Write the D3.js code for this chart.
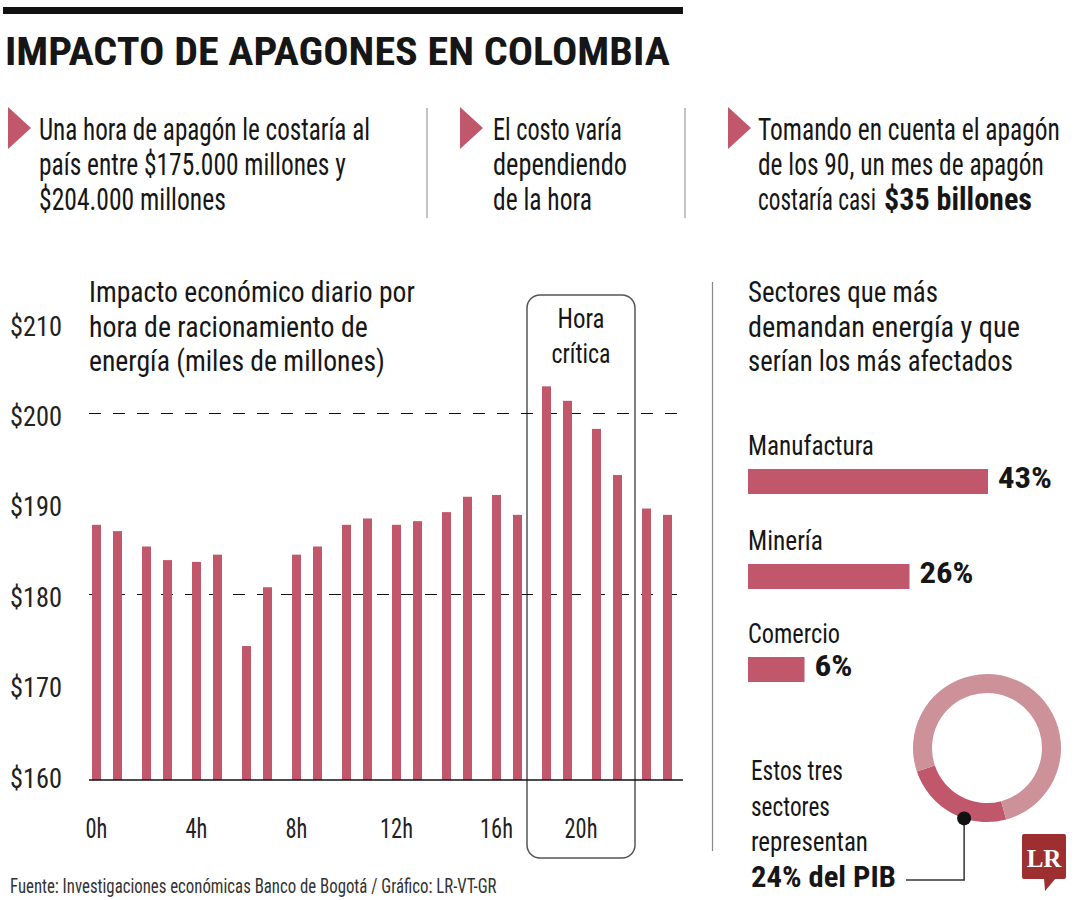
<!DOCTYPE html>
<html>
<head>
<meta charset="utf-8">
<script src="https://cdn.jsdelivr.net/npm/d3@7"></script>
<style>
  html, body { margin: 0; padding: 0; background: #fff; }
  svg { display: block; }
  text { font-family: 'Liberation Sans Narrow', 'Roboto Condensed', 'Liberation Sans', Arial, sans-serif; fill: #161616; }
</style>
</head>
<body>
<svg id="chart" width="1080" height="900"></svg>
<script>
// ---------------- DATA ----------------
const hours = ["0h","1h","2h","3h","4h","5h","6h","7h","8h","9h","10h","11h",
               "12h","13h","14h","15h","16h","17h","18h","19h","20h","21h","22h","23h"];
const impact = [187.7,187.0,185.3,183.8,183.6,184.4,174.3,180.8,184.4,185.3,187.7,188.4,
                187.7,188.1,189.1,190.8,191.0,188.8,203.0,201.4,198.3,193.2,189.5,188.8];
const yTicks = [160,170,180,190,200,210];
const xTickLabels = ["0h","4h","8h","12h","16h","20h"];
const refLines = [180,200];
const criticalHours = ["18h","19h","20h","21h"];
const criticalLabel = ["Hora","crítica"];
const sectors = ["Manufactura","Minería","Comercio"];
const sectorShares = [43,26,6];
const pibLabels = ["24%","resto"];
const pibShares = [24,76];

const title = "IMPACTO DE APAGONES EN COLOMBIA";
const chartTitle = ["Impacto económico diario por","hora de racionamiento de","energía (miles de millones)"];
const sectorTitle = ["Sectores que más","demandan energía y que","serían los más afectados"];
const note1 = ["Una hora de apagón le costaría al","país entre $175.000 millones y","$204.000 millones"];
const note2 = ["El costo varía","dependiendo","de la hora"];
const note3 = ["Tomando en cuenta el apagón","de los 90, un mes de apagón","costaría casi"];
const note3Bold = "$35 billones";
const pibNote = ["Estos tres","sectores","representan"];
const pibBold = "24% del PIB";
const source = "Fuente: Investigaciones económicas Banco de Bogotá / Gráfico: LR-VT-GR";

// ---------------- STYLE ----------------
const RED = "#c1576a";
const PINK = "#cd9199";
const LOGO = "#9e2f30";

const svg = d3.select("#chart");

// text helper: width-fitting done with a horizontal scale transform (condensed look)
function txt(x, y, s, o = {}) {
  const t = svg.append("text").attr("x", 0).attr("y", 0).text(s)
    .style("font-size", (o.size || 28) + "px")
    .style("font-weight", o.weight || "normal")
    .attr("text-anchor", o.anchor || "start");
  if (o.fill) t.style("fill", o.fill);
  if (o.family) t.style("font-family", o.family);
  let sx = 1;
  const w = t.node().getComputedTextLength();
  if (o.width) sx = o.width / w;
  else if (o.squeeze) sx = o.squeeze;
  t.attr("transform", `translate(${x},${y}) scale(${sx},1)`);
  return t;
}

// top rule + title
svg.append("rect").attr("x", 3).attr("y", 7).attr("width", 680).attr("height", 7).attr("fill", "#111");
txt(5, 65, title, {size: 38, weight: "bold", width: 665});

// notes
function marker(x) {
  svg.append("path").attr("d", `M${x},107 L${x+23},128 L${x},149 Z`).attr("fill", RED);
}
const noteW1 = [331, 307, 187], noteW2 = [129, 134, 99], noteW3 = [302, 286, 118];
marker(8); marker(460); marker(728);
note1.forEach((s, i) => txt(39, 140 + i * 35, s, {size: 31, width: noteW1[i]}));
note2.forEach((s, i) => txt(493, 140 + i * 35, s, {size: 31, width: noteW2[i]}));
note3.forEach((s, i) => txt(758, 140 + i * 35, s, {size: 31, width: noteW3[i]}));
txt(884, 210, note3Bold, {size: 31, weight: "bold", width: 148});
[427, 685].forEach(x => svg.append("line").attr("x1", x).attr("x2", x).attr("y1", 108).attr("y2", 218)
  .attr("stroke", "#888").attr("stroke-width", 1));

// ---------------- BAR CHART ----------------
const pairs = d3.range(12);
const xPair = d3.scaleBand().domain(pairs).range([82, 682]);
const xSub = d3.scalePoint().domain([0, 1]).range([14.5, 35.5]);
const barW = 9;
const xc = h => { const i = hours.indexOf(h); return xPair(Math.floor(i / 2)) + xSub(i % 2); };
const y = d3.scaleLinear().domain([159.5, 210]).range([780, 323]);

// chart title
const chartTitleW = [326, 279, 296];
chartTitle.forEach((s, i) => txt(89, 302 + i * 34.5, s, {size: 29, width: chartTitleW[i]}));

// critical box
const bx0 = xc(criticalHours[0]) - barW / 2 - 15;
const bx1 = xc(criticalHours[criticalHours.length - 1]) + barW / 2 + 13;
svg.append("rect").attr("x", bx0).attr("y", 295).attr("width", bx1 - bx0).attr("height", 563)
  .attr("rx", 13).attr("fill", "none").attr("stroke", "#555").attr("stroke-width", 1.5);
const bxc = (bx0 + bx1) / 2;
txt(bxc, 328, criticalLabel[0], {size: 27, anchor: "middle", width: 47});
txt(bxc, 363, criticalLabel[1], {size: 27, anchor: "middle", width: 59});

// y axis labels
const yAxis = d3.axisLeft(y).tickValues(yTicks).tickFormat(d => "$" + d).tickSize(0).tickPadding(0);
const ya = svg.append("g").attr("transform", "translate(10,0)").call(yAxis);
ya.select(".domain").remove();
ya.selectAll("text").attr("x", 0).attr("dy", null).attr("y", 12)
  .attr("text-anchor", "start").style("font-size", "28px").style("fill", "#222")
  .style("font-family", "'Liberation Sans Narrow', 'Roboto Condensed', 'Liberation Sans', Arial, sans-serif")
  .each(function() {
    const w = this.getComputedTextLength();
    d3.select(this).attr("transform", `scale(${52 / w},1)`);
  });

// reference dashed lines
svg.selectAll(".ref").data(refLines).join("line")
  .attr("x1", 89).attr("x2", 683).attr("y1", d => y(d)).attr("y2", d => y(d))
  .attr("stroke", "#111").attr("stroke-width", 1.2).attr("stroke-dasharray", "12,12");

// bars
svg.selectAll(".bar").data(hours).join("rect")
  .attr("x", h => xc(h) - barW / 2)
  .attr("y", (h, i) => y(impact[i]))
  .attr("width", barW)
  .attr("height", (h, i) => y(y.domain()[0]) - y(impact[i]))
  .attr("fill", RED);

// baseline
svg.append("line").attr("x1", 89).attr("x2", 683).attr("y1", 780).attr("y2", 780)
  .attr("stroke", "#111").attr("stroke-width", 1.5);

// x labels
xTickLabels.forEach(lbl => {
  const xx = criticalHours.includes(lbl) ? bxc : xc(lbl);
  txt(xx, 838, lbl, {size: 28, anchor: "middle", squeeze: 0.8, fill: "#222"});
});

// source
txt(10, 893, source, {size: 21, width: 487, fill: "#333"});

// ---------------- SECTORS ----------------
svg.append("line").attr("x1", 712.5).attr("x2", 712.5).attr("y1", 282).attr("y2", 851)
  .attr("stroke", "#888").attr("stroke-width", 1.2);
const sectorTitleW = [190, 272, 265];
sectorTitle.forEach((s, i) => txt(748, 302 + i * 34.5, s, {size: 29, width: sectorTitleW[i]}));

const xs = d3.scaleLinear().domain([0, 6, 26, 43]).range([0, 56.5, 161.5, 240]);
const rowY = [469, 564, 657];
const labelW = [126, 75, 92];
const pctW = [54, 54, 38];
sectors.forEach((s, i) => {
  txt(748, rowY[i] - 14, s, {size: 27, width: labelW[i]});
  svg.append("rect").attr("x", 748).attr("y", rowY[i]).attr("width", xs(sectorShares[i])).attr("height", 25).attr("fill", RED);
  txt(748 + xs(sectorShares[i]) + 10, rowY[i] + 19, sectorShares[i] + "%", {size: 30, weight: "bold", width: pctW[i]});
});

// donut
const cx = 987, cy = 748, R = 74, r = 55;
const pie = d3.pie().sort(null).startAngle(165 * Math.PI / 180).endAngle(525 * Math.PI / 180);
const arc = d3.arc().innerRadius(r).outerRadius(R);
svg.append("g").attr("transform", `translate(${cx},${cy})`)
  .selectAll("path").data(pie(pibShares)).join("path")
  .attr("d", arc).attr("fill", (d, i) => i === 0 ? RED : PINK);

// leader
const a = 198 * Math.PI / 180;
const dx = cx + R * Math.sin(a), dy = cy - R * Math.cos(a);
svg.append("path").attr("d", `M${dx},${dy} L${dx},880 L906,880`).attr("fill", "none")
  .attr("stroke", "#333").attr("stroke-width", 1.5);
svg.append("circle").attr("cx", dx).attr("cy", dy).attr("r", 7).attr("fill", "#111");

const pibW = [92, 79, 117];
pibNote.forEach((s, i) => txt(751, 780 + i * 35.5, s, {size: 27, width: pibW[i]}));
txt(751, 887, pibBold, {size: 29, weight: "bold", width: 145});

// logo
svg.append("rect").attr("x", 1022).attr("y", 834).attr("width", 44).attr("height", 45).attr("rx", 2).attr("fill", LOGO);
svg.append("path").attr("d", "M1044,878 L1056,878 L1045,891 Z").attr("fill", LOGO);
txt(1044, 867, "LR", {size: 25, weight: "bold", anchor: "middle", fill: "#fff", family: "'Liberation Serif', 'DejaVu Serif', serif"});
</script>
</body>
</html>
